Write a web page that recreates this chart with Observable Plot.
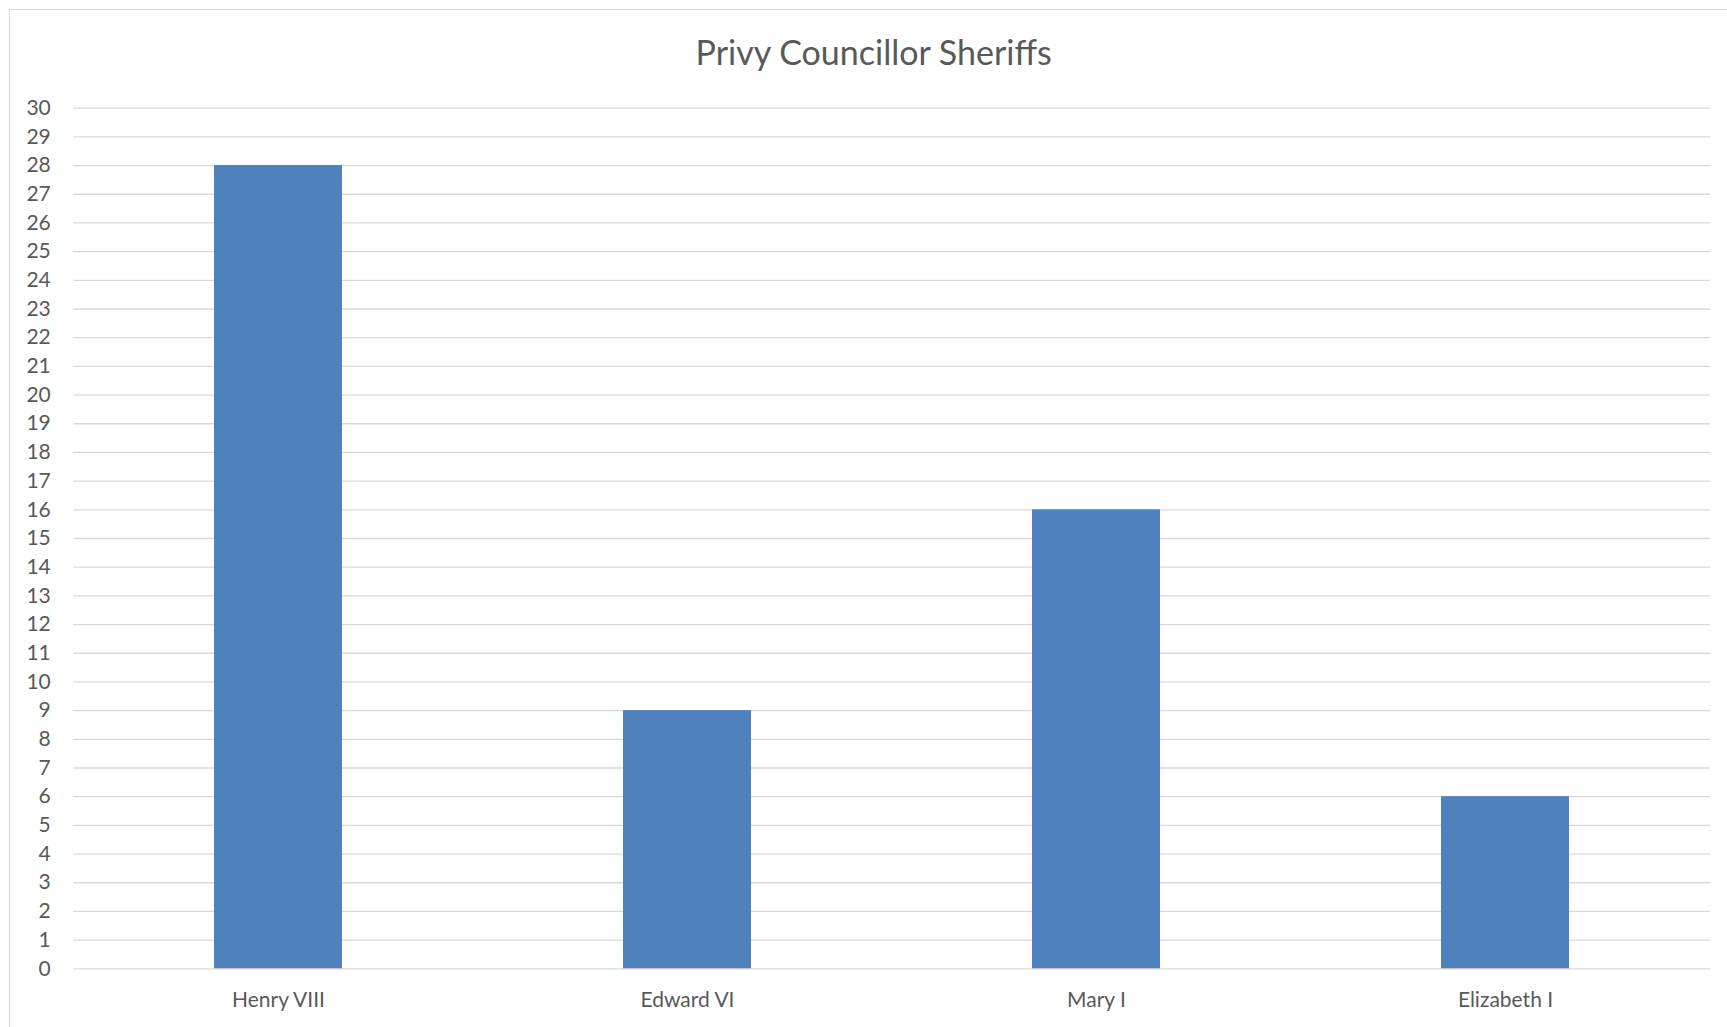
<!DOCTYPE html>
<html>
<head>
<meta charset="utf-8">
<script src="https://cdn.jsdelivr.net/npm/d3@7"></script>
<script src="https://cdn.jsdelivr.net/npm/@observablehq/plot@0.6"></script>
<style>
  html, body { margin: 0; padding: 0; background: #fff; }
  body { width: 1727px; height: 1027px; overflow: hidden; position: relative; }
  #frame { position: absolute; left: 8.5px; top: 8.5px; width: 2000px; height: 2000px;
           border: 1.5px solid #d9d9d9; box-sizing: border-box; pointer-events: none; }
  #title { position: relative; height: 80px; }
  #title span { position: absolute; left: 873.7px; top: 31.3px; transform: translateX(-50%);
                font-family: Lato, "Open Sans", sans-serif; font-size: 34px; line-height: 41px;
                color: #595959; white-space: nowrap; }
  #chart svg { display: block; }
</style>
</head>
<body>
<div id="frame"></div>
<div id="title"><span>Privy Councillor Sheriffs</span></div>
<div id="chart"></div>
<script>
const reigns = ["Henry VIII", "Edward VI", "Mary I", "Elizabeth I"];
const sheriffs = [28, 9, 16, 6];
const yTicks = [0, 1, 2, 3, 4, 5, 6, 7, 8, 9, 10, 11, 12, 13, 14, 15, 16, 17, 18, 19, 20,
                21, 22, 23, 24, 25, 26, 27, 28, 29, 30];

const data = reigns.map((r, i) => ({reign: r, count: sheriffs[i]}));

const chart = Plot.plot({
  width: 1727,
  height: 947,
  marginTop: 27.7,
  marginBottom: 58.7,
  marginLeft: 73.3,
  marginRight: 17,
  style: {fontFamily: "Lato, 'Open Sans', sans-serif", fontSize: "21px", color: "#595959", background: "transparent"},
  x: {domain: reigns, paddingInner: 0.687, paddingOuter: 0.3435, label: null},
  y: {domain: [0, 30], label: null},
  marks: [
    Plot.gridY(yTicks, {stroke: "#d9d9d9", strokeOpacity: 1, strokeWidth: 1.3}),
    Plot.barY(data, {x: "reign", y: "count", fill: "#4f81bd"}),
    Plot.axisY(yTicks, {tickSize: 0, tickPadding: 23, fontSize: 21, fill: "#595959", label: null}),
    Plot.axisX({tickSize: 0, tickPadding: 23.3, fontSize: 21, fill: "#595959", label: null})
  ]
});
document.getElementById("chart").appendChild(chart);
</script>
</body>
</html>
